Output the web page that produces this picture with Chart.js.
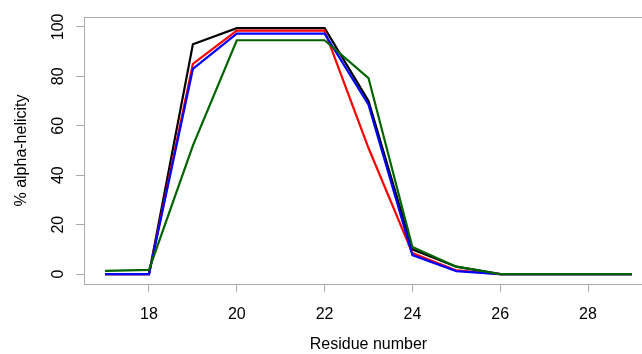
<!DOCTYPE html>
<html>
<head>
<meta charset="utf-8">
<script src="https://cdn.jsdelivr.net/npm/chart.js@4"></script>
<style>
  html, body { margin: 0; padding: 0; background: #fff; overflow: hidden; }
  #wrap { width: 642px; height: 354px; overflow: hidden; }
</style>
</head>
<body>
<div id="wrap"><canvas id="helix" width="660" height="354"></canvas></div>
<script>
// residue positions and % helicity for the four runs
const RESIDUES = [17, 18, 19, 20, 21, 22, 23, 24, 25, 26, 27, 28, 29];
const BLACK = [0, 0, 93, 99.5, 99.5, 99.5, 70, 10, 3, 0, 0, 0, 0];
const RED   = [0, 0, 85, 98.5, 98.5, 98.5, 51, 8.5, 1.5, 0, 0, 0, 0];
const BLUE  = [0, 0, 83, 97.3, 97.3, 97.3, 68.5, 7.7, 1.2, 0, 0, 0, 0];
const GREEN = [1.3, 1.7, 52, 94.6, 94.6, 94.6, 79.3, 11, 3, 0, 0, 0, 0];

const X_TICKS = [18, 20, 22, 24, 26, 28];
const Y_TICKS = [0, 20, 40, 60, 80, 100];

const FONT = 'Liberation Sans, Arial, Helvetica, sans-serif';
const AXIS_GREY = '#aaaaaa';

const toPoints = ys => ys.map((y, i) => ({ x: RESIDUES[i], y }));

function series(data, color, order) {
  return {
    data: toPoints(data),
    borderColor: color,
    borderWidth: 2.2,
    pointRadius: 0,
    tension: 0,
    fill: false,
    order
  };
}

// R-style frame + tick labels
const rAxes = {
  id: 'rAxes',
  afterDraw(chart) {
    const { ctx, chartArea: a, scales } = chart;
    ctx.save();
    ctx.strokeStyle = AXIS_GREY;
    ctx.lineWidth = 1;
    ctx.strokeRect(a.left + 0.5, a.top + 0.5, a.right - a.left, a.bottom - a.top);

    ctx.fillStyle = '#000';
    ctx.font = '16px ' + FONT;
    ctx.textAlign = 'center';
    ctx.textBaseline = 'middle';
    X_TICKS.forEach(v => {
      ctx.fillText(String(v), scales.x.getPixelForValue(v), a.bottom + 31);
    });
    Y_TICKS.forEach(v => {
      ctx.save();
      ctx.translate(a.left - 25, scales.y.getPixelForValue(v));
      ctx.rotate(-Math.PI / 2);
      ctx.fillText(String(v), 0, 0);
      ctx.restore();
    });
    ctx.restore();
  }
};

new Chart(document.getElementById('helix').getContext('2d'), {
  type: 'line',
  data: {
    datasets: [
      series(BLACK, '#000000', 4),
      series(RED, '#ff0000', 3),
      series(BLUE, '#0000ff', 2),
      series(GREEN, '#006400', 1)
    ]
  },
  options: {
    responsive: false,
    animation: false,
    devicePixelRatio: 1,
    layout: { padding: { top: 17, right: 7, left: 0, bottom: 0 } },
    plugins: { legend: { display: false }, tooltip: { enabled: false } },
    scales: {
      x: {
        type: 'linear',
        min: 16.52, max: 29.48,
        afterBuildTicks: s => { s.ticks = X_TICKS.map(v => ({ value: v })); },
        afterFit: s => { s.height = 70; },
        ticks: { display: false },
        border: { display: false },
        grid: { drawOnChartArea: false, drawTicks: true, tickLength: 8, color: AXIS_GREY },
        title: { display: true, text: 'Residue number', color: '#000', font: { size: 16, family: FONT }, padding: { top: 0, bottom: 0 } }
      },
      y: {
        min: -4, max: 104,
        afterBuildTicks: s => { s.ticks = Y_TICKS.map(v => ({ value: v })); },
        afterFit: s => { s.width = 84; },
        ticks: { display: false },
        border: { display: false },
        grid: { drawOnChartArea: false, drawTicks: true, tickLength: 8, color: AXIS_GREY },
        title: { display: true, text: '% alpha-helicity', color: '#000', font: { size: 16, family: FONT }, padding: { top: 12, bottom: 0 } }
      }
    }
  },
  plugins: [rAxes]
});
</script>
</body>
</html>
